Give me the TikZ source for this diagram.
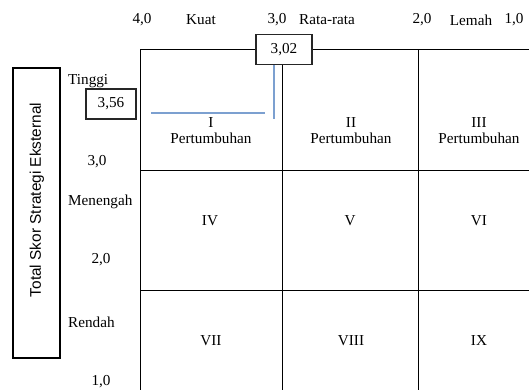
\documentclass[tikz,border=0pt]{standalone}
\usepackage{fontspec}
\setmainfont{Liberation Serif}
\newfontfamily\arialf{Liberation Sans}
\begin{document}
\begin{tikzpicture}[x=1pt,y=-1pt,
  lbl/.style={inner sep=0pt,font=\fontsize{15.2}{18}\selectfont},
  llbl/.style={lbl,anchor=west},
  cell/.style={lbl,align=center},
  valbox/.style={draw=black!85,line width=1.2pt,minimum width=#1,minimum height=30,inner sep=0pt,font=\fontsize{15.2}{18}\selectfont},
  gridl/.style={line width=1pt,black},
  blue/.style={draw={rgb,255:red,124;green,160;blue,208},line width=1.3pt}]
\useasboundingbox (0,0) rectangle (529,390);
\begin{scope}
\clip (0,0) rectangle (529,390);
% grid
\draw[gridl] (140,50) -- (540,50);
\draw[gridl] (140,170) -- (540,170);
\draw[gridl] (140,290) -- (540,290);
\draw[gridl] (140,50) -- (140,400);
\draw[gridl] (282,50) -- (282,400);
\draw[gridl] (418,50) -- (418,400);
% top labels
\node[lbl] (t40) at (142,20) {4,0};
\node[lbl] (kuat) at (201,20) {Kuat};
\node[lbl] (t30) at (277,20) {3,0};
\node[lbl] (rata) at (327,20) {Rata-rata};
\node[lbl] (t20) at (422,20) {2,0};
\node[lbl] (lemah) at (471,20) {Lemah};
\node[lbl] (t10) at (514,20) {1,0};
\end{scope}
% blue lines
\coordinate (bh1) at (151,113);
\coordinate (bh2) at (265,113);
\coordinate (bv1) at (274,64);
\coordinate (bv2) at (274,119);
\draw[blue] (bh1) -- (bh2);
\draw[blue] (bv1) -- (bv2);
% value boxes
\node[valbox=56,fill=white] (v302) at (284,49.5) {3,02};
\node[valbox=50,fill=white] (v356) at (111,104) {3,56};
% left labels
\node[llbl] (tinggi) at (68,81) {Tinggi};
\node[lbl] (l30) at (97,162) {3,0};
\node[llbl] (menengah) at (68,202) {Menengah};
\node[lbl] (l20) at (101,260) {2,0};
\node[llbl] (rendah) at (68,322) {Rendah};
\node[lbl] (l10) at (101,382) {1,0};
% left rotated box
\node[draw=black,line width=2pt,minimum width=47,minimum height=290,inner sep=0pt] (ybox) at (36,213) {};
\node[rotate=90,inner sep=0pt,font=\arialf\fontsize{15.4}{18}\selectfont] (ytext) at (37,200) {Total Skor Strategi Eksternal};
% cells
\node[cell] (c1) at (211,131) {I\\[-2pt]Pertumbuhan};
\node[cell] (c2) at (351,131) {II\\[-2pt]Pertumbuhan};
\node[cell] (c3) at (479,131) {III\\[-2pt]Pertumbuhan};
\node[lbl] (c4) at (210,221) {IV};
\node[lbl] (c5) at (350,221) {V};
\node[lbl] (c6) at (479,221) {VI};
\node[lbl] (c7) at (211,341) {VII};
\node[lbl] (c8) at (351,341) {VIII};
\node[lbl] (c9) at (479,341) {IX};
\end{tikzpicture}
\end{document}
